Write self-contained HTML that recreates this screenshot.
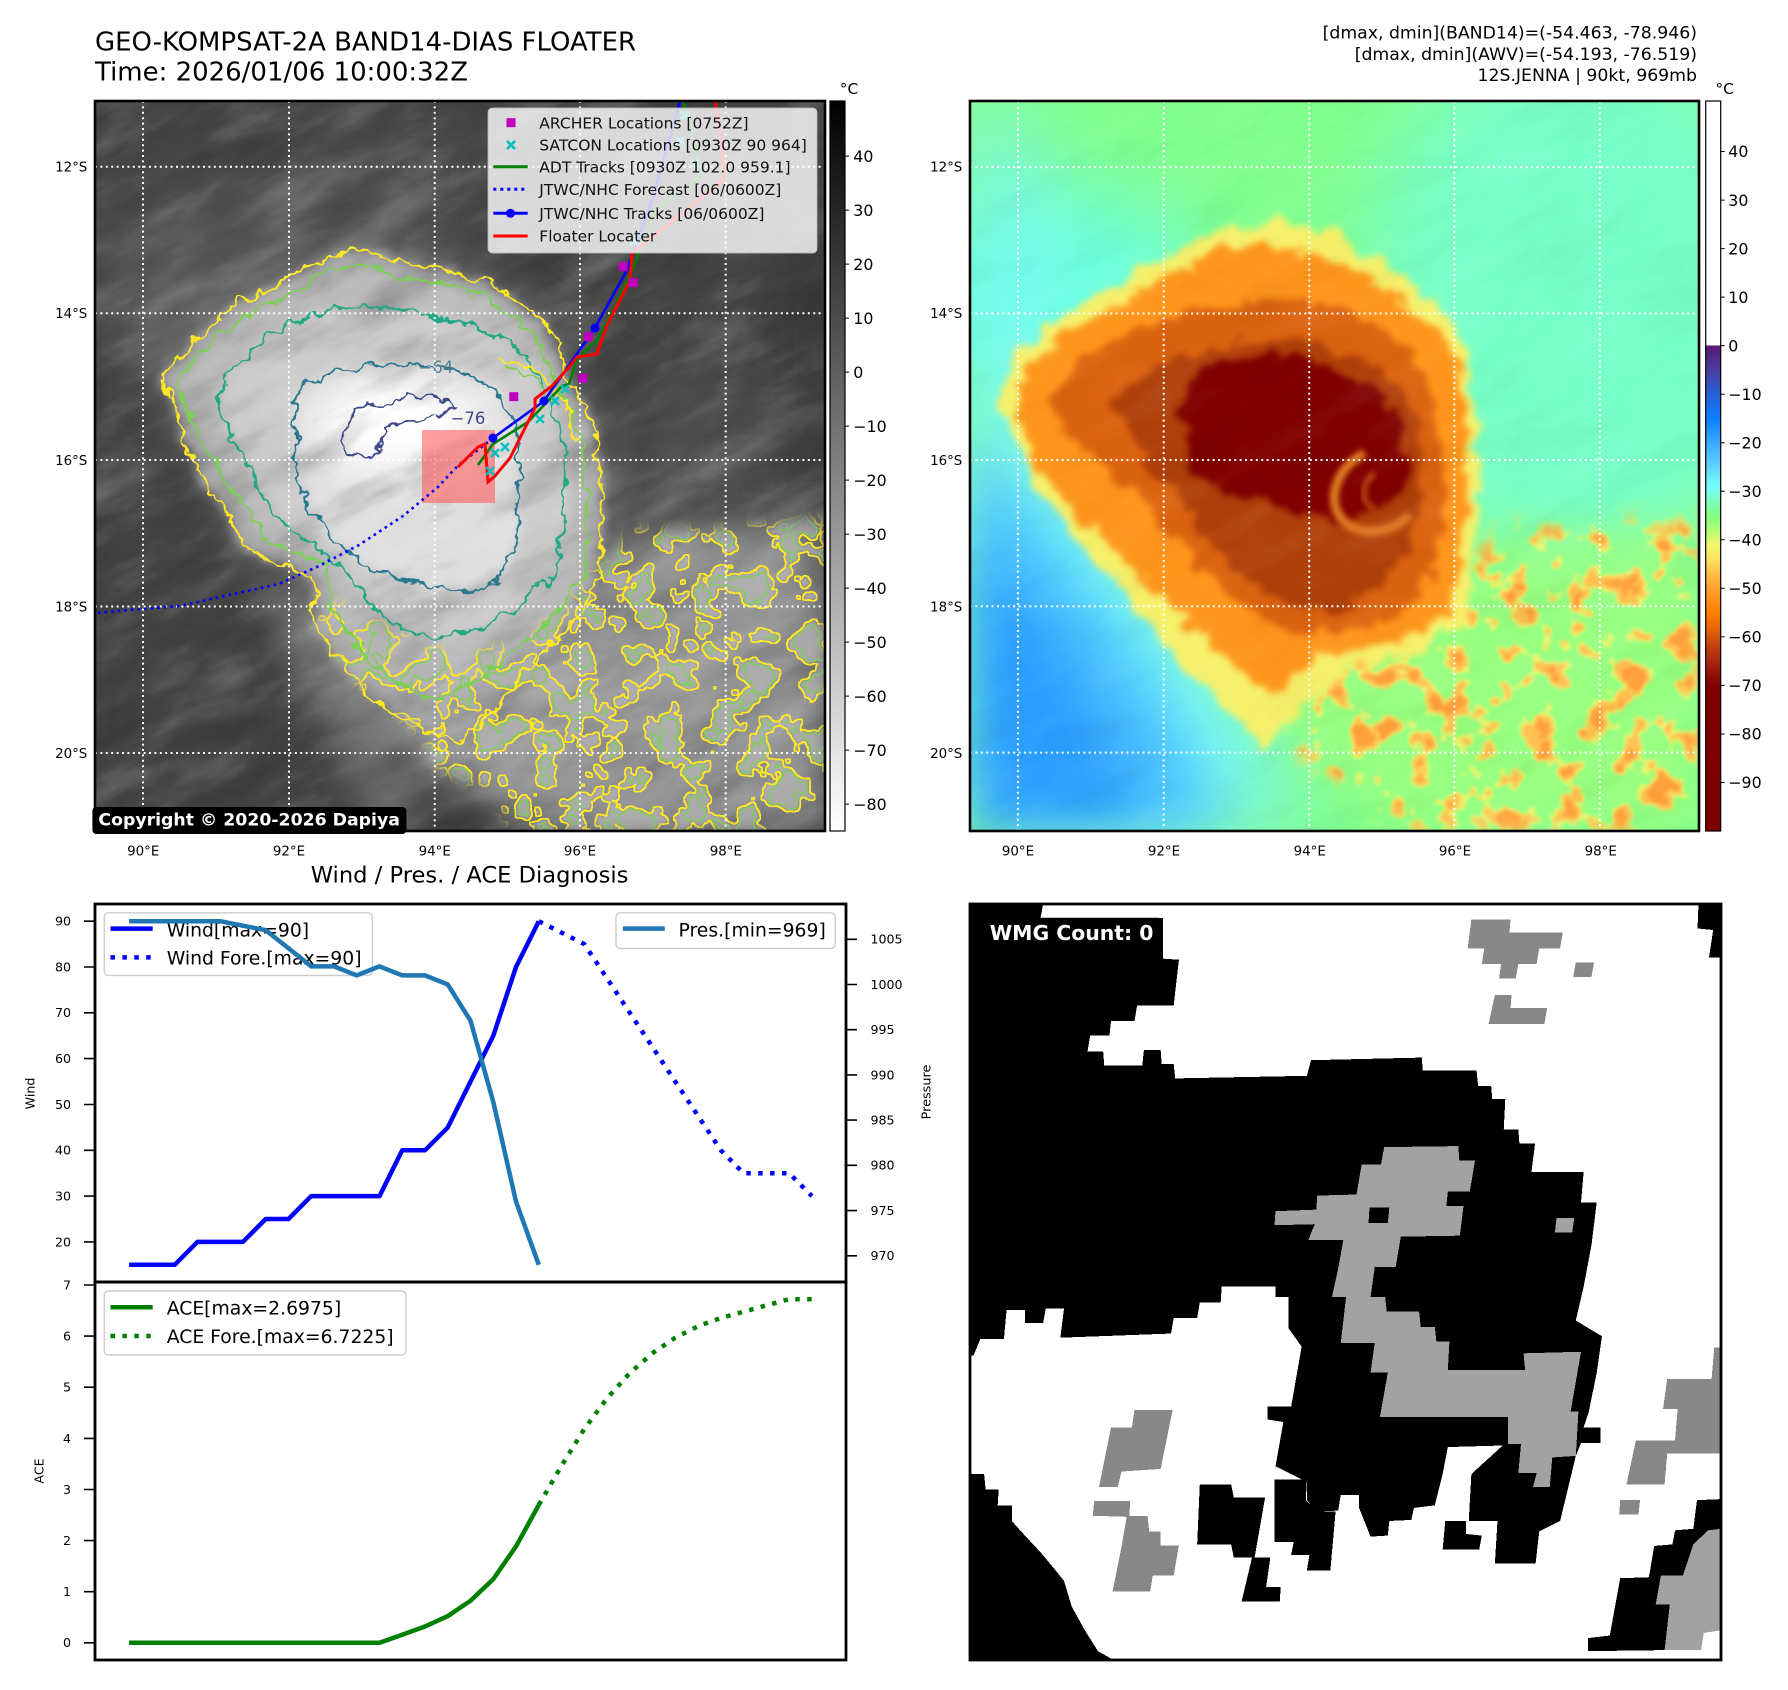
<!DOCTYPE html>
<html><head><meta charset="utf-8"><style>
html,body{margin:0;padding:0;background:#fff;}
svg{display:block;}
text{font-family:"DejaVu Sans","Liberation Sans",sans-serif;}
</style></head><body>
<svg width="1788" height="1690" viewBox="0 0 1788 1690" xmlns="http://www.w3.org/2000/svg">
<defs>
<filter id="b3" x="-30%" y="-30%" width="160%" height="160%"><feGaussianBlur stdDeviation="3"/></filter>
<filter id="b6" x="-30%" y="-30%" width="160%" height="160%"><feGaussianBlur stdDeviation="6"/></filter>
<filter id="b10" x="-40%" y="-40%" width="180%" height="180%"><feGaussianBlur stdDeviation="10"/></filter>
<filter id="b14" x="-40%" y="-40%" width="180%" height="180%"><feGaussianBlur stdDeviation="14"/></filter>
<filter id="b20" x="-50%" y="-50%" width="200%" height="200%"><feGaussianBlur stdDeviation="20"/></filter>
<filter id="b25" x="-50%" y="-50%" width="200%" height="200%"><feGaussianBlur stdDeviation="25"/></filter>
<filter id="b40" x="-60%" y="-60%" width="220%" height="220%"><feGaussianBlur stdDeviation="40"/></filter>
<filter id="rough" filterUnits="userSpaceOnUse" x="-40" y="-40" width="810" height="810" color-interpolation-filters="sRGB">
 <feTurbulence type="fractalNoise" baseFrequency="0.05" numOctaves="3" seed="4" result="t"/>
 <feDisplacementMap in="SourceGraphic" in2="t" scale="28" xChannelSelector="R" yChannelSelector="G" result="d"/>
 <feGaussianBlur in="d" stdDeviation="3.5"/>
</filter>
<filter id="roughL" filterUnits="userSpaceOnUse" x="-40" y="-40" width="810" height="810" color-interpolation-filters="sRGB">
 <feTurbulence type="fractalNoise" baseFrequency="0.05" numOctaves="3" seed="4" result="t"/>
 <feDisplacementMap in="SourceGraphic" in2="t" scale="22" xChannelSelector="R" yChannelSelector="G" result="d"/>
 <feGaussianBlur in="d" stdDeviation="5"/>
</filter>
<filter id="wig" filterUnits="userSpaceOnUse" x="-40" y="-40" width="810" height="810" color-interpolation-filters="sRGB">
 <feTurbulence type="fractalNoise" baseFrequency="0.06" numOctaves="3" seed="8" result="t"/>
 <feDisplacementMap in="SourceGraphic" in2="t" scale="18" xChannelSelector="R" yChannelSelector="G"/>
</filter>
<filter id="nzW" color-interpolation-filters="sRGB">
 <feTurbulence type="fractalNoise" baseFrequency="0.01 0.03" numOctaves="4" seed="3"/>
 <feColorMatrix type="matrix" values="0 0 0 0 1 0 0 0 0 1 0 0 0 0 1 1.8 0 0 0 -0.9"/>
</filter>
<filter id="nzB" color-interpolation-filters="sRGB">
 <feTurbulence type="fractalNoise" baseFrequency="0.01 0.03" numOctaves="4" seed="3"/>
 <feColorMatrix type="matrix" values="0 0 0 0 0 0 0 0 0 0 0 0 0 0 0 -1.8 0 0 0 0.9"/>
</filter>
<filter id="fFillL" filterUnits="userSpaceOnUse" x="0" y="0" width="730" height="730" color-interpolation-filters="sRGB">
 <feGaussianBlur in="SourceGraphic" stdDeviation="8" result="m"/>
 <feTurbulence type="fractalNoise" baseFrequency="0.034" numOctaves="3" seed="21"/>
 <feColorMatrix type="matrix" values="0 0 0 0 0 0 0 0 0 0 0 0 0 0 0 1 0 0 0 0"/>
 <feComponentTransfer result="th"><feFuncA type="discrete" tableValues="0 0 0 0 0 0 0 0 0 0 0 1 1 1 1 1 1 1 1 1"/></feComponentTransfer>
 <feFlood flood-color="#b4b4b4"/>
 <feComposite in2="th" operator="in"/>
 <feComposite in2="m" operator="in"/>
 <feGaussianBlur stdDeviation="1.5"/>
</filter>
<filter id="fbY" filterUnits="userSpaceOnUse" x="0" y="0" width="730" height="730" color-interpolation-filters="sRGB">
 <feGaussianBlur in="SourceGraphic" stdDeviation="6" result="m"/>
 <feTurbulence type="fractalNoise" baseFrequency="0.034" numOctaves="3" seed="21"/>
 <feColorMatrix type="matrix" values="0 0 0 0 0 0 0 0 0 0 0 0 0 0 0 1 0 0 0 0"/>
 <feComponentTransfer result="th"><feFuncA type="discrete" tableValues="0 0 0 0 0 0 0 0 0 0 0 1 1 1 1 1 1 1 1 1"/></feComponentTransfer>
 <feMorphology in="th" operator="dilate" radius="1.4" result="dil"/>
 <feComposite in="dil" in2="th" operator="out" result="edge"/>
 <feFlood flood-color="#fde725"/>
 <feComposite in2="edge" operator="in"/>
 <feComposite in2="m" operator="in"/>
</filter>
<filter id="fbG" filterUnits="userSpaceOnUse" x="0" y="0" width="730" height="730" color-interpolation-filters="sRGB">
 <feGaussianBlur in="SourceGraphic" stdDeviation="6" result="m"/>
 <feTurbulence type="fractalNoise" baseFrequency="0.034" numOctaves="3" seed="21"/>
 <feColorMatrix type="matrix" values="0 0 0 0 0 0 0 0 0 0 0 0 0 0 0 1 0 0 0 0"/>
 <feComponentTransfer result="th"><feFuncA type="discrete" tableValues="0 0 0 0 0 0 0 0 0 0 0 0 0 1 1 1 1 1 1 1"/></feComponentTransfer>
 <feMorphology in="th" operator="dilate" radius="1.2" result="dil"/>
 <feComposite in="dil" in2="th" operator="out" result="edge"/>
 <feFlood flood-color="#7ad151"/>
 <feComposite in2="edge" operator="in"/>
 <feComposite in2="m" operator="in"/>
</filter>
<filter id="fBY" filterUnits="userSpaceOnUse" x="0" y="0" width="730" height="730" color-interpolation-filters="sRGB">
 <feGaussianBlur in="SourceGraphic" stdDeviation="12" result="m"/>
 <feTurbulence type="fractalNoise" baseFrequency="0.034" numOctaves="3" seed="21"/>
 <feColorMatrix type="matrix" values="0 0 0 0 0 0 0 0 0 0 0 0 0 0 0 1 0 0 0 0"/>
 <feComponentTransfer result="th"><feFuncA type="discrete" tableValues="0 0 0 0 0 0 0 0 0 0 0 1 1 1 1 1 1 1 1 1"/></feComponentTransfer>
 <feFlood flood-color="#eef46c"/>
 <feComposite in2="th" operator="in"/>
 <feComposite in2="m" operator="in"/>
 <feGaussianBlur stdDeviation="1.8"/>
</filter>
<filter id="fBO" filterUnits="userSpaceOnUse" x="0" y="0" width="730" height="730" color-interpolation-filters="sRGB">
 <feGaussianBlur in="SourceGraphic" stdDeviation="12" result="m"/>
 <feTurbulence type="fractalNoise" baseFrequency="0.034" numOctaves="3" seed="21"/>
 <feColorMatrix type="matrix" values="0 0 0 0 0 0 0 0 0 0 0 0 0 0 0 1 0 0 0 0"/>
 <feComponentTransfer result="th"><feFuncA type="discrete" tableValues="0 0 0 0 0 0 0 0 0 0 0 0 1 1 1 1 1 1 1 1"/></feComponentTransfer>
 <feFlood flood-color="#ffc050"/>
 <feComposite in2="th" operator="in"/>
 <feComposite in2="m" operator="in"/>
 <feGaussianBlur stdDeviation="1.8"/>
</filter>
<filter id="fBR" filterUnits="userSpaceOnUse" x="0" y="0" width="730" height="730" color-interpolation-filters="sRGB">
 <feGaussianBlur in="SourceGraphic" stdDeviation="12" result="m"/>
 <feTurbulence type="fractalNoise" baseFrequency="0.034" numOctaves="3" seed="21"/>
 <feColorMatrix type="matrix" values="0 0 0 0 0 0 0 0 0 0 0 0 0 0 0 1 0 0 0 0"/>
 <feComponentTransfer result="th"><feFuncA type="discrete" tableValues="0 0 0 0 0 0 0 0 0 0 0 0 0 0 1 1 1 1 1 1"/></feComponentTransfer>
 <feFlood flood-color="#ffa03a"/>
 <feComposite in2="th" operator="in"/>
 <feComposite in2="m" operator="in"/>
 <feGaussianBlur stdDeviation="1.5"/>
</filter>
<linearGradient id="gGray" x1="0" y1="0" x2="0" y2="1">
 <stop offset="0" stop-color="#000"/><stop offset="1" stop-color="#fff"/>
</linearGradient>
<linearGradient id="gAwv" x1="0" y1="0" x2="0" y2="1">
 <stop offset="0" stop-color="#fff"/>
 <stop offset="0.3350" stop-color="#fff"/>
 <stop offset="0.3351" stop-color="#5a1873"/>
 <stop offset="0.3684" stop-color="#4a3c9e"/>
 <stop offset="0.4016" stop-color="#2a5fd8"/>
 <stop offset="0.4348" stop-color="#0a80ff"/>
 <stop offset="0.4681" stop-color="#3aa8ff"/>
 <stop offset="0.5013" stop-color="#5fd5ff"/>
 <stop offset="0.5213" stop-color="#70f5ff"/>
 <stop offset="0.5346" stop-color="#78fff0"/>
 <stop offset="0.5545" stop-color="#7fffa8"/>
 <stop offset="0.5678" stop-color="#80ff80"/>
 <stop offset="0.5878" stop-color="#b4ff70"/>
 <stop offset="0.6077" stop-color="#f0f868"/>
 <stop offset="0.6277" stop-color="#ffe060"/>
 <stop offset="0.6476" stop-color="#ffc048"/>
 <stop offset="0.6676" stop-color="#ffa030"/>
 <stop offset="0.7008" stop-color="#ff8000"/>
 <stop offset="0.7207" stop-color="#e86808"/>
 <stop offset="0.7473" stop-color="#c04010"/>
 <stop offset="0.7739" stop-color="#a02010"/>
 <stop offset="0.8005" stop-color="#800000"/>
 <stop offset="1" stop-color="#7c0000"/>
</linearGradient>
</defs>

<rect width="1788" height="1690" fill="#fff"/>

<!-- Titles -->
<text x="95" y="50.7" font-size="25.6" textLength="541" lengthAdjust="spacingAndGlyphs">GEO-KOMPSAT-2A BAND14-DIAS FLOATER</text>
<text x="95" y="80.7" font-size="25.6" textLength="373" lengthAdjust="spacingAndGlyphs">Time: 2026/01/06 10:00:32Z</text>
<text x="1697" y="38.3" font-size="17.3" text-anchor="end">[dmax, dmin](BAND14)=(-54.463, -78.946)</text>
<text x="1697" y="60" font-size="17.3" text-anchor="end">[dmax, dmin](AWV)=(-54.193, -76.519)</text>
<text x="1697" y="81" font-size="17.3" text-anchor="end">12S.JENNA | 90kt, 969mb</text>

<!-- ================= LEFT MAP ================= -->
<svg x="95" y="101" width="730" height="730" viewBox="0 0 730 730" overflow="hidden">
 <rect width="730" height="730" fill="#434343"/>
 <g filter="url(#b40)">
  <ellipse cx="170" cy="180" rx="210" ry="95" fill="#5a5a5a"/>
  <ellipse cx="300" cy="60" rx="120" ry="40" fill="#4f4f4f"/>
  <ellipse cx="600" cy="90" rx="150" ry="110" fill="#474747"/>
  <ellipse cx="610" cy="370" rx="110" ry="80" fill="#575757"/>
  <rect x="690" y="170" width="60" height="400" fill="#3a3a3a"/>
  <ellipse cx="90" cy="620" rx="140" ry="150" fill="#444"/>
 </g>
 <ellipse cx="200" cy="225" rx="130" ry="50" fill="#686868" filter="url(#b25)"/>
 <path d="M219,520 L244,559 L274,595 L328,631 L343,667 L393,688 L423,730 L730,730 L730,420 L620,430 L540,430 L500,470 L470,510 L430,540 L380,550 L330,545 L280,520 L240,500 Z" fill="#929292" filter="url(#b20)"/>
 <path d="M150,470 L230,500 L280,560 L300,650 L330,730 L270,730 L240,640 L190,560 Z" fill="#6a6a6a" filter="url(#b14)"/>
 <ellipse cx="410" cy="600" rx="130" ry="70" fill="#a0a0a0" filter="url(#b25)"/>
 <path d="M66,279 L84,318 L97,354 L114,386 L134,415 L149,444 L184,465 L219,473 L219,523 L244,559 L274,595 L328,631 L365,640 L400,610 L440,560 L480,520 L505,470 L507,430 L505,380 L500,330 L478,286 L462,246 L447,219 L416,196 L393,182 L353,169 L307,162 L272,149 L240,152 L218,162 L175,189 L146,199 L123,219 L100,236 Z" fill="#7a7a7a" filter="url(#b20)"/>
 <g filter="url(#roughL)">
  <path d="M66,279 L84,318 L97,354 L114,386 L134,415 L149,444 L184,465 L219,473 L219,523 L244,559 L274,595 L328,631 L365,640 L400,610 L440,560 L480,520 L505,470 L507,430 L505,380 L500,330 L478,286 L462,246 L447,219 L416,196 L393,182 L353,169 L307,162 L272,149 L240,152 L218,162 L175,189 L146,199 L123,219 L100,236 Z" fill="#a5a5a5"/>
  <path d="M80,285 L100,320 L112,352 L130,383 L152,410 L170,438 L200,455 L232,462 L236,510 L258,540 L290,575 L340,600 L390,575 L430,540 L470,505 L490,470 L492,400 L488,340 L465,290 L450,255 L435,228 L408,208 L385,195 L350,183 L305,176 L272,163 L228,170 L220,180 L182,200 L155,210 L133,228 L108,248 Z" fill="#b8b8b8"/>
  <path d="M120,305 L140,340 L160,380 L185,420 L220,445 L250,470 L290,520 L340,540 L390,525 L430,500 L460,470 L470,420 L470,350 L455,300 L435,262 L410,240 L370,222 L320,212 L270,205 L220,212 L175,235 L140,265 Z" fill="#c9c9c9"/>
  <path d="M199,300 L215,280 L240,272 L300,262 L340,265 L363,268 L395,285 L415,310 L425,345 L423,400 L423,440 L405,480 L375,490 L340,487 L300,478 L265,460 L240,440 L215,410 L202,370 Z" fill="#dddddd"/>
 </g>
 <ellipse cx="305" cy="330" rx="95" ry="60" fill="#f1f1f1" filter="url(#b14)"/>
 <ellipse cx="300" cy="322" rx="60" ry="30" fill="#fff" filter="url(#b10)"/>
 <g transform="rotate(-28 365 365)">
  <rect x="-220" y="-220" width="1170" height="1170" filter="url(#nzW)" opacity="0.26"/>
  <rect x="-220" y="-220" width="1170" height="1170" filter="url(#nzB)" opacity="0.26"/>
 </g>
 <!-- band fills and contours -->
 <path d="M219,520 L244,559 L274,595 L328,631 L343,667 L393,688 L423,730 L730,730 L730,420 L620,430 L540,430 L500,470 L470,510 L430,540 L380,550 L330,545 L280,520 L240,500 Z" fill="#fff" filter="url(#fFillL)" opacity="0.8"/>
 <path d="M219,520 L244,559 L274,595 L328,631 L343,667 L393,688 L423,730 L730,730 L730,420 L620,430 L540,430 L500,470 L470,510 L430,540 L380,550 L330,545 L280,520 L240,500 Z" fill="#fff" filter="url(#fbY)"/>
 <path d="M219,520 L244,559 L274,595 L328,631 L343,667 L393,688 L423,730 L730,730 L730,420 L620,430 L540,430 L500,470 L470,510 L430,540 L380,550 L330,545 L280,520 L240,500 Z" fill="#fff" filter="url(#fbG)"/>
 <!-- main contours -->
 <g fill="none" stroke-width="2.3" filter="url(#wig)">
  <path d="M66,279 L84,318 L97,354 L114,386 L134,415 L149,444 L184,465 L219,473 L219,523 L244,559 L274,595 L328,631 L365,640 L400,610 L440,560 L480,520 L505,470 L507,430 L505,380 L500,330 L478,286 L462,246 L447,219 L416,196 L393,182 L353,169 L307,162 L272,149 L240,152 L218,162 L175,189 L146,199 L123,219 L100,236 Z" stroke="#fde725"/>
  <path d="M80,285 L100,320 L112,352 L130,383 L152,410 L170,438 L200,455 L232,462 L236,510 L258,540 L290,575 L340,600 L390,575 L430,540 L470,505 L490,470 L492,400 L488,340 L465,290 L450,255 L435,228 L408,208 L385,195 L350,183 L305,176 L272,163 L228,170 L220,180 L182,200 L155,210 L133,228 L108,248 Z" stroke="#7ad151"/>
  <path d="M120,305 L140,340 L160,380 L185,420 L220,445 L250,470 L290,520 L340,540 L390,525 L430,500 L460,470 L470,420 L470,350 L455,300 L435,262 L410,240 L370,222 L320,212 L270,205 L220,212 L175,235 L140,265 Z" stroke="#22a884"/>
  <path d="M199,300 L215,280 L240,272 L300,262 L340,265 L363,268 L395,285 L415,310 L425,345 L423,400 L423,440 L405,480 L375,490 L340,487 L300,478 L265,460 L240,440 L215,410 L202,370 Z" stroke="#2a788e"/>
  <path d="M244,338 L264,307 L293,303 L313,293 L343,296 L363,307 L343,314 L293,326 L283,350 L270,357 L250,350 Z" stroke="#3e4989"/>
  <path d="M400,255 L440,268 L470,300 L480,340" stroke="#fde725"/>
  <path d="M405,262 L438,278 L462,305" stroke="#7ad151"/>
 </g>
 <text x="341" y="272" font-size="16.5" fill="#4a7f8f" text-anchor="middle">−64</text>
 <text x="373" y="323" font-size="16.5" fill="#3e4989" text-anchor="middle">−76</text>
 <!-- grid -->
 <path d="M48,0V730M194,0V730M339.7,0V730M485,0V730M630.7,0V730M0,65.7H730M0,212.3H730M0,359H730M0,505.5H730M0,652H730" stroke="#fff" stroke-width="2" stroke-dasharray="2 3.4" fill="none"/>
 <!-- floater box -->
 <rect x="327" y="329" width="73" height="73" fill="#ff5050" opacity="0.55"/>
 <!-- tracks -->
 <polyline points="398,337 363,364.5 343,386 308,415 264,444 224,465 184,483 134,494 84.5,505 35,509 0,512" fill="none" stroke="#0000ff" stroke-width="2.6" stroke-dasharray="2.6 4"/>
 <polyline points="383,364 398,343 433,321 467,285 474,283 482,258 502,239 520,206 540,162 560,110 605,76 600,40 588,0" fill="none" stroke="#008000" stroke-width="2.6"/>
 <polyline points="398,337 449,300 500,227 532,169 558,96 585,0" fill="none" stroke="#0000ff" stroke-width="2.6"/>
 <g fill="#0000ff"><circle cx="398" cy="337" r="4.5"/><circle cx="449" cy="300" r="4.5"/><circle cx="500" cy="227" r="4.5"/></g>
 <polyline points="363,366 383,346 390,343 393,381 400,375 415,357 440,307 440,298 457,285 475,265 482,256 502,253 512,224 525,199 535,179 537,152 620,86 630,76 625,32 620,0" fill="none" stroke="#ff0000" stroke-width="3"/>
 <g stroke="#00bfbf" stroke-width="2.4">
  <path d="M396,348l8,8m0,-8l-8,8 M406,342l8,8m0,-8l-8,8 M391,366l8,8m0,-8l-8,8 M441,314l8,8m0,-8l-8,8 M456,296l8,8m0,-8l-8,8 M466,284l8,8m0,-8l-8,8 M535,136l8,8m0,-8l-8,8 M581,36l8,8m0,-8l-8,8 M586,10l8,8m0,-8l-8,8 M596,58l8,8m0,-8l-8,8"/>
 </g>
 <g fill="#bf00bf">
  <rect x="414.3" y="291.2" width="9" height="9"/><rect x="483.2" y="272.8" width="9" height="9"/><rect x="488.9" y="231.2" width="9" height="9"/><rect x="523.5" y="161.2" width="9" height="9"/><rect x="533.7" y="177.2" width="9" height="9"/>
 </g>
 <!-- legend -->
 <rect x="393.3" y="7.3" width="328.4" height="144.4" rx="4" fill="#fff" fill-opacity="0.8" stroke="#ccc" stroke-width="1.3"/>
 <rect x="411.5" y="17.2" width="9" height="9" fill="#bf00bf"/>
 <path d="M412,40l8,8m0,-8l-8,8" stroke="#00bfbf" stroke-width="2.6"/>
 <line x1="398.3" y1="65.7" x2="432.7" y2="65.7" stroke="#008000" stroke-width="3"/>
 <line x1="398.3" y1="88.3" x2="432.7" y2="88.3" stroke="#0000ff" stroke-width="3" stroke-dasharray="3 4"/>
 <line x1="398.3" y1="112.3" x2="432.7" y2="112.3" stroke="#0000ff" stroke-width="3"/>
 <circle cx="415.5" cy="112.3" r="4.5" fill="#0000ff"/>
 <line x1="398.3" y1="135" x2="432.7" y2="135" stroke="#ff0000" stroke-width="3"/>
 <g font-size="15.5" fill="#111">
  <text x="444.3" y="27.4">ARCHER Locations [0752Z]</text>
  <text x="444.3" y="49.7">SATCON Locations [0930Z 90 964]</text>
  <text x="444.3" y="71.4">ADT Tracks [0930Z 102.0 959.1]</text>
  <text x="444.3" y="94">JTWC/NHC Forecast [06/0600Z]</text>
  <text x="444.3" y="118">JTWC/NHC Tracks [06/0600Z]</text>
  <text x="444.3" y="140.7">Floater Locater</text>
 </g>
</svg>
<rect x="95" y="101" width="730" height="730" fill="none" stroke="#000" stroke-width="2.6"/>
<rect x="92.4" y="807" width="314" height="27" rx="4" fill="#000"/>
<text x="98.4" y="825.5" font-size="17.3" font-weight="bold" fill="#fff">Copyright © 2020-2026 Dapiya</text>

<!-- left map labels -->
<g font-size="13.4" text-anchor="end">
 <text x="87.3" y="171.5">12°S</text><text x="87.3" y="318.1">14°S</text><text x="87.3" y="464.8">16°S</text><text x="87.3" y="611.3">18°S</text><text x="87.3" y="757.8">20°S</text>
</g>
<g font-size="13.4" text-anchor="middle">
 <text x="143.2" y="855.5">90°E</text><text x="289" y="855.5">92°E</text><text x="434.7" y="855.5">94°E</text><text x="580" y="855.5">96°E</text><text x="725.8" y="855.5">98°E</text>
</g>
<!-- left colorbar -->
<rect x="830" y="101" width="15" height="730" fill="url(#gGray)" stroke="#000" stroke-width="1.2"/>
<text x="849" y="94" font-size="15.4" text-anchor="middle">°C</text>
<g stroke="#000" stroke-width="1">
 <path d="M845,156.1h4M845,210.1h4M845,264.1h4M845,318.1h4M845,372.1h4M845,426.1h4M845,480.1h4M845,534.1h4M845,588.1h4M845,642.1h4M845,696.1h4M845,750.1h4M845,804.1h4"/>
</g>
<g font-size="15.8">
 <text x="853.3" y="161.8">40</text><text x="853.3" y="215.8">30</text><text x="853.3" y="269.8">20</text><text x="853.3" y="323.8">10</text><text x="853.3" y="377.8">0</text>
 <text x="853.3" y="431.8">−10</text><text x="853.3" y="485.8">−20</text><text x="853.3" y="539.8">−30</text><text x="853.3" y="593.8">−40</text><text x="853.3" y="647.8">−50</text><text x="853.3" y="701.8">−60</text><text x="853.3" y="755.8">−70</text><text x="853.3" y="809.8">−80</text>
</g>

<!-- ================= RIGHT MAP ================= -->
<svg x="970" y="101" width="729" height="730" viewBox="0 0 730 730" overflow="hidden">
 <rect width="730" height="730" fill="#82ff8e"/>
 <g filter="url(#b40)">
  <ellipse cx="610" cy="200" rx="220" ry="270" fill="#78ffc8"/>
  <ellipse cx="90" cy="200" rx="150" ry="110" fill="#6cffe0"/>
  <path d="M0,0 L70,40 L60,200 L90,300 L150,400 L240,530 L300,640 L330,730 L0,730 Z" fill="#7af8f4"/>
 </g>
 <g filter="url(#b25)">
  <path d="M0,330 L40,380 L100,460 L160,540 L210,620 L255,730 L0,730 Z" fill="#4cc4ff"/>
  <path d="M0,430 L60,500 L120,580 L160,680 L175,730 L0,730 Z" fill="#2c9eff"/>
 </g>
 <path d="M219,520 L244,559 L274,595 L328,631 L343,667 L393,688 L423,730 L730,730 L730,420 L620,430 L540,430 L500,470 L470,510 L430,540 L380,550 L330,545 L280,520 L240,500 Z" fill="#a0ff7c" filter="url(#b20)" opacity="0.7"/>
 <path d="M219,520 L244,559 L274,595 L328,631 L343,667 L393,688 L423,730 L730,730 L730,420 L620,430 L540,430 L500,470 L470,510 L430,540 L380,550 L330,545 L280,520 L240,500 Z" fill="#fff" filter="url(#fBY)"/>
 <path d="M219,520 L244,559 L274,595 L328,631 L343,667 L393,688 L423,730 L730,730 L730,420 L620,430 L540,430 L500,470 L470,510 L430,540 L380,550 L330,545 L280,520 L240,500 Z" fill="#fff" filter="url(#fBO)"/>
 <path d="M219,520 L244,559 L274,595 L328,631 L343,667 L393,688 L423,730 L730,730 L730,420 L620,430 L540,430 L500,470 L470,510 L430,540 L380,550 L330,545 L280,520 L240,500 Z" fill="#fff" filter="url(#fBR)"/>
 <g filter="url(#rough)">
  <path d="M30,300 L45,255 L85,220 L135,188 L195,158 L245,130 L300,120 L355,128 L405,155 L452,190 L488,224 L503,288 L508,380 L505,460 L495,525 L445,552 L390,565 L340,600 L295,648 L262,615 L218,568 L165,505 L115,448 L65,385 Z" fill="#f6f06a"/>
  <path d="M44,296 L62,258 L97,230 L150,205 L200,172 L250,146 L320,146 L390,172 L440,204 L478,240 L494,294 L498,380 L494,466 L478,518 L430,542 L372,548 L332,572 L296,592 L262,560 L205,510 L152,460 L102,410 L64,362 Z" fill="#ff961c"/>
  <path d="M78,296 L110,260 L160,230 L232,206 L302,196 L372,206 L420,232 L455,270 L470,322 L474,400 L464,468 L440,512 L382,532 L322,530 L282,512 L242,474 L192,424 L142,374 L100,334 Z" fill="#dc6410"/>
  <path d="M140,300 L195,262 L262,242 L332,238 L392,258 L434,294 L452,342 L454,402 L438,454 L402,494 L352,512 L302,500 L262,466 L222,416 L176,360 Z" fill="#b0400a"/>
  <path d="M210,306 L226,270 L274,254 L340,257 L396,281 L434,320 L442,368 L420,404 L382,422 L344,414 L302,400 L256,394 L222,366 Z" fill="#800000"/>
 </g>
 <path d="M395,352 C365,368 356,402 374,420 C392,437 424,432 440,414" fill="none" stroke="#e07a20" stroke-width="9" filter="url(#b3)"/>
 <path d="M405,372 C390,385 392,402 405,408" fill="none" stroke="#c05010" stroke-width="5" filter="url(#b3)"/>
 <g transform="rotate(-28 365 365)">
  <rect x="-220" y="-220" width="1170" height="1170" filter="url(#nzW)" opacity="0.08"/>
  <rect x="-220" y="-220" width="1170" height="1170" filter="url(#nzB)" opacity="0.06"/>
 </g>
 <path d="M48,0V730M194,0V730M339.7,0V730M485,0V730M630.7,0V730M0,65.7H730M0,212.3H730M0,359H730M0,505.5H730M0,652H730" stroke="#fff" stroke-width="2" stroke-dasharray="2 3.4" fill="none"/>
</svg>
<rect x="970" y="101" width="729" height="730" fill="none" stroke="#000" stroke-width="2.6"/>
<g font-size="13.4" text-anchor="end">
 <text x="962.3" y="171.5">12°S</text><text x="962.3" y="318.1">14°S</text><text x="962.3" y="464.8">16°S</text><text x="962.3" y="611.3">18°S</text><text x="962.3" y="757.8">20°S</text>
</g>
<g font-size="13.4" text-anchor="middle">
 <text x="1018" y="855.5">90°E</text><text x="1164" y="855.5">92°E</text><text x="1309.7" y="855.5">94°E</text><text x="1455" y="855.5">96°E</text><text x="1600.7" y="855.5">98°E</text>
</g>
<!-- right colorbar -->
<rect x="1705.7" y="101" width="15" height="730" fill="url(#gAwv)" stroke="#000" stroke-width="1.2"/>
<text x="1724.7" y="94" font-size="15.4" text-anchor="middle">°C</text>
<g stroke="#000" stroke-width="1">
 <path d="M1720.7,151.5h4M1720.7,200.1h4M1720.7,248.6h4M1720.7,297.1h4M1720.7,345.6h4M1720.7,394.2h4M1720.7,442.7h4M1720.7,491.3h4M1720.7,539.8h4M1720.7,588.3h4M1720.7,636.9h4M1720.7,685.4h4M1720.7,734h4M1720.7,782.5h4"/>
</g>
<g font-size="15.8">
 <text x="1728.3" y="157.2">40</text><text x="1728.3" y="205.8">30</text><text x="1728.3" y="254.3">20</text><text x="1728.3" y="302.8">10</text><text x="1728.3" y="351.3">0</text>
 <text x="1728.3" y="399.9">−10</text><text x="1728.3" y="448.4">−20</text><text x="1728.3" y="497">−30</text><text x="1728.3" y="545.5">−40</text><text x="1728.3" y="594">−50</text><text x="1728.3" y="642.6">−60</text><text x="1728.3" y="691.1">−70</text><text x="1728.3" y="739.7">−80</text><text x="1728.3" y="788.2">−90</text>
</g>

<!-- ================= CHARTS ================= -->
<text x="469.6" y="882.4" font-size="22.6" text-anchor="middle">Wind / Pres. / ACE Diagnosis</text>
<g stroke="#000" stroke-width="1.6">
 <path d="M84,921.2h11M84,967h11M84,1012.8h11M84,1058.6h11M84,1104.5h11M84,1150.3h11M84,1196.1h11M84,1241.9h11"/>
 <path d="M846,939.3h11M846,984.5h11M846,1029.7h11M846,1074.9h11M846,1120.1h11M846,1165.3h11M846,1210.6h11M846,1255.8h11"/>
 <path d="M84,1285h11M84,1336.1h11M84,1387.2h11M84,1438.4h11M84,1489.5h11M84,1540.6h11M84,1591.7h11M84,1642.8h11"/>
</g>
<g font-size="12.6" text-anchor="end">
 <text x="71" y="925.6">90</text><text x="71" y="971.4">80</text><text x="71" y="1017.2">70</text><text x="71" y="1063">60</text><text x="71" y="1108.9">50</text><text x="71" y="1154.7">40</text><text x="71" y="1200.5">30</text><text x="71" y="1246.3">20</text>
 <text x="71" y="1289.4">7</text><text x="71" y="1340.5">6</text><text x="71" y="1391.6">5</text><text x="71" y="1442.8">4</text><text x="71" y="1493.9">3</text><text x="71" y="1545">2</text><text x="71" y="1596.1">1</text><text x="71" y="1647.2">0</text>
</g>
<g font-size="12.6">
 <text x="870.5" y="943.7">1005</text><text x="870.5" y="988.9">1000</text><text x="870.5" y="1034.1">995</text><text x="870.5" y="1079.3">990</text><text x="870.5" y="1124.5">985</text><text x="870.5" y="1169.7">980</text><text x="870.5" y="1215">975</text><text x="870.5" y="1260.2">970</text>
</g>
<text transform="translate(34.4,1093.5) rotate(-90)" font-size="12.6" text-anchor="middle">Wind</text>
<text transform="translate(930.5,1092) rotate(-90)" font-size="12.8" text-anchor="middle">Pressure</text>
<text transform="translate(43.5,1471) rotate(-90)" font-size="12.6" text-anchor="middle">ACE</text>

<polyline points="129.1,1264.8 151.9,1264.8 174.7,1264.8 197.4,1241.9 220.2,1241.9 242.9,1241.9 265.7,1219 288.5,1219 311.2,1196.1 334,1196.1 356.7,1196.1 379.5,1196.1 402.2,1150.3 425,1150.3 447.8,1127.4 470.5,1081.6 493.3,1035.7 516,967 538.8,921.2" fill="none" stroke="#0000ff" stroke-width="4.5" stroke-linejoin="round"/>
<polyline points="538.8,921.2 561.5,932.6 584.3,944.1 607.1,978.5 629.8,1012.8 652.6,1047.2 675.3,1081.6 698.1,1115.9 720.9,1150.3 743.6,1173.2 766.4,1173.2 789.1,1173.2 811.9,1196.1" fill="none" stroke="#0000ff" stroke-width="4.5" stroke-dasharray="4.5 7.4"/>
<rect x="104.3" y="912.8" width="268" height="62.6" rx="4" fill="#fff" fill-opacity="0.8" stroke="#ccc" stroke-width="1.4"/>
<line x1="110.5" y1="928.6" x2="152.7" y2="928.6" stroke="#0000ff" stroke-width="4.5"/>
<line x1="110.5" y1="957.4" x2="152.7" y2="957.4" stroke="#0000ff" stroke-width="4.5" stroke-dasharray="4.5 7.4"/>
<text x="166.7" y="936.4" font-size="18.8">Wind[max=90]</text>
<text x="166.7" y="964.6" font-size="18.8">Wind Fore.[max=90]</text>
<polyline points="129.1,921.2 151.9,921.2 174.7,921.2 197.4,921.2 220.2,921.2 242.9,925.7 265.7,930.2 288.5,948.3 311.2,966.4 334,966.4 356.7,975.4 379.5,966.4 402.2,975.4 425,975.4 447.8,984.5 470.5,1020.7 493.3,1102 516,1201.5 538.8,1264.8" fill="none" stroke="#1f77b4" stroke-width="4.5" stroke-linejoin="round"/>
<rect x="616" y="912.8" width="219.2" height="35.6" rx="4" fill="#fff" fill-opacity="0.8" stroke="#ccc" stroke-width="1.4"/>
<line x1="622.8" y1="928.6" x2="664.8" y2="928.6" stroke="#1f77b4" stroke-width="4.5"/>
<text x="678.5" y="936.4" font-size="18.8">Pres.[min=969]</text>
<polyline points="129.1,1642.8 379.5,1642.8 402.2,1634.7 425,1626.5 447.8,1616.1 470.5,1600.7 493.3,1579.1 516,1546.4 538.8,1504.9" fill="none" stroke="#008000" stroke-width="4.5" stroke-linejoin="round"/>
<polyline points="538.8,1504.9 561.5,1465.8 584.3,1428.9 607.1,1398.2 629.8,1373.1 652.6,1353.1 675.3,1337.7 698.1,1326.2 720.9,1318 743.6,1311.7 766.4,1305.4 789.1,1299.2 811.9,1299.2" fill="none" stroke="#008000" stroke-width="4.5" stroke-dasharray="4.5 7.4"/>
<rect x="104.3" y="1291" width="301.6" height="63.9" rx="4" fill="#fff" fill-opacity="0.8" stroke="#ccc" stroke-width="1.4"/>
<line x1="110.5" y1="1307.3" x2="152.7" y2="1307.3" stroke="#008000" stroke-width="4.5"/>
<line x1="110.5" y1="1336" x2="152.7" y2="1336" stroke="#008000" stroke-width="4.5" stroke-dasharray="4.5 7.4"/>
<text x="166.7" y="1314.3" font-size="18.8">ACE[max=2.6975]</text>
<text x="166.7" y="1343" font-size="18.8">ACE Fore.[max=6.7225]</text>
<rect x="95" y="904" width="751" height="378" fill="none" stroke="#000" stroke-width="2.8"/>
<rect x="95" y="1282" width="751" height="378" fill="none" stroke="#000" stroke-width="2.8"/>

<!-- ================= WMG ================= -->
<svg x="970" y="904" width="751" height="756" viewBox="55 45 1438 1452" preserveAspectRatio="none" shape-rendering="crispEdges">
 <rect x="55" y="45" width="1438" height="1452" fill="#fff"/>
 <g fill="#000">
  <polygon points="55,45 195,45 190,72 425,72 425,150 455,152 445,240 375,240 370,270 325,270 322,298 285,298 280,328 310,328 312,355 385,355 388,325 420,325 422,352 445,352 448,380 700,375 708,345 920,340 922,365 1025,365 1028,395 1053,395 1055,420 1080,420 1077,478 1105,478 1107,505 1137,505 1130,560 1230,560 1225,618 1255,618 1245,700 1230,780 1215,845 1265,875 1255,945 1240,1020 1230,1050 1262,1050 1262,1080 1225,1080 1215,1105 1185,1230 1145,1250 1138,1312 1060,1312 1065,1230 1010,1230 1015,1140 1075,1085 970,1088 960,1140 945,1200 905,1205 900,1228 858,1230 855,1258 822,1260 800,1205 800,1180 765,1180 760,1210 720,1212 700,1190 700,1155 640,1125 655,1040 625,1035 625,1010 670,1010 690,895 665,860 665,800 640,800 640,780 537,780 535,810 495,810 490,840 445,840 440,870 228,878 235,822 200,822 195,850 160,850 160,825 125,825 120,880 75,880 62,912 55,912"/>
  <polygon points="55,1140 82,1140 85,1170 110,1170 108,1200 135,1200 135,1230 162,1260 190,1290 215,1320 235,1345 250,1395 275,1440 300,1480 330,1497 55,1497"/>
  <polygon points="495,1160 555,1160 560,1185 620,1185 600,1300 560,1300 555,1275 490,1275"/>
  <polygon points="595,1300 630,1300 622,1357 650,1357 648,1385 575,1385"/>
  <polygon points="638,1150 700,1150 698,1190 722,1212 755,1212 745,1325 700,1325 705,1295 670,1295 675,1270 638,1270"/>
  <polygon points="965,1230 1005,1230 1005,1255 1035,1258 1030,1285 960,1285"/>
  <polygon points="1450,45 1493,45 1493,148 1470,148 1478,95 1448,92"/>
  <polygon points="1238,1455 1280,1450 1300,1340 1355,1338 1365,1278 1400,1275 1405,1248 1440,1245 1447,1190 1493,1188 1493,1245 1468,1248 1440,1275 1420,1335 1378,1335 1368,1390 1395,1390 1385,1478 1238,1480"/>
 </g>
 <g fill="#a2a2a2">
  <polygon points="848,512 990,510 992,538 1022,538 1012,597 970,597 967,625 1000,625 993,682 880,684 870,742 830,742 822,800 850,800 853,828 915,828 918,857 945,857 948,885 973,885 970,940 1118,940 1115,908 1225,905 1205,1020 1220,1020 1215,1105 1170,1108 1165,1165 1133,1165 1140,1138 1105,1138 1110,1082 1085,1082 1085,1030 840,1030 855,945 822,945 830,888 765,888 775,800 748,800 760,745 770,690 703,690 715,660 638,662 640,635 718,632 720,605 795,603 805,545 842,545"/>
  <polygon points="1178,648 1212,648 1208,676 1175,676"/>
  <polygon points="1440,1275 1468,1248 1493,1245 1493,1440 1460,1445 1455,1478 1385,1478 1395,1390 1368,1390 1378,1335 1420,1335"/>
 </g>
 <polygon points="820,628 858,628 855,658 818,658" fill="#000"/>
 <g fill="#888">
  <polygon points="1015,75 1090,75 1088,100 1190,100 1185,130 1145,130 1140,160 1105,160 1100,188 1068,188 1072,160 1035,160 1040,130 1008,130"/>
  <polygon points="1215,157 1250,157 1245,185 1210,185"/>
  <polygon points="1060,220 1092,220 1090,245 1160,245 1155,275 1048,275"/>
  <polygon points="370,1017 443,1017 420,1130 345,1135 338,1165 302,1165 325,1050 365,1050"/>
  <polygon points="293,1192 362,1192 360,1220 395,1220 398,1250 420,1250 420,1277 455,1277 445,1335 405,1335 400,1365 328,1365 345,1280 355,1222 290,1220"/>
  <polygon points="1390,957 1475,957 1480,897 1493,897 1493,1100 1390,1100 1385,1160 1312,1160 1330,1075 1405,1075 1410,1015 1382,1015"/>
  <polygon points="1300,1190 1338,1190 1335,1218 1298,1218"/>
 </g>
</svg>
<rect x="981.8" y="917.7" width="180.5" height="31.3" rx="4" fill="#000"/>
<text x="989.7" y="940" font-size="20.4" font-weight="bold" fill="#fff">WMG Count: 0</text>
<rect x="970" y="904" width="751" height="756" fill="none" stroke="#000" stroke-width="2.8"/>
</svg>
</body></html>
